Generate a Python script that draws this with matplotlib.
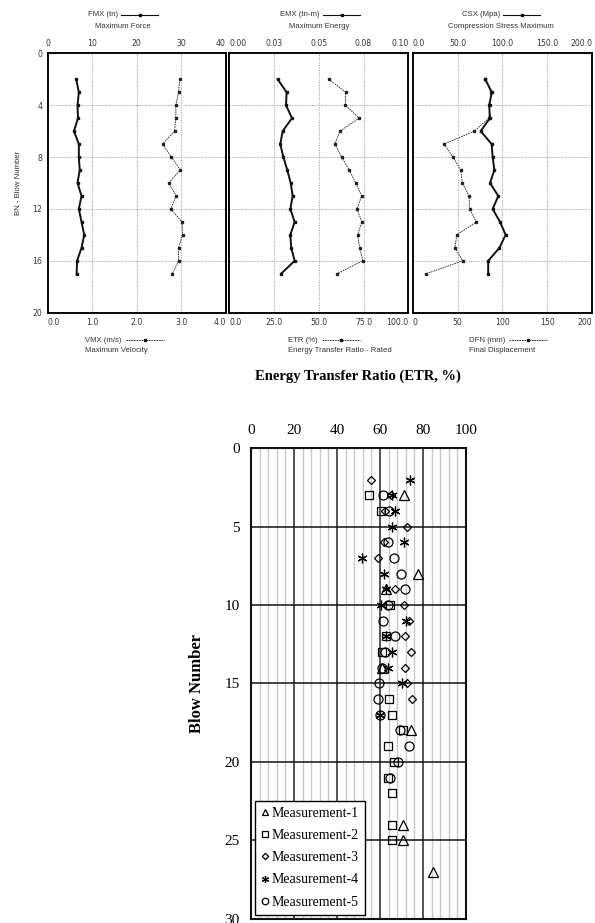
import numpy as np
import matplotlib
matplotlib.use("Agg")
import matplotlib.pyplot as plt
from matplotlib.lines import Line2D

# ---------------- data: PDA output panels (blows 2..17) ----------------
pda_blows = [2, 3, 4, 5, 6, 7, 8, 9, 10, 11, 12, 13, 14, 15, 16, 17]
fmx = [6.4, 7.0, 6.7, 6.8, 5.9, 7.0, 7.0, 7.2, 6.7, 7.6, 7.0, 7.6, 8.2, 7.6, 6.6, 6.5]
vmx = [2.97, 2.94, 2.88, 2.88, 2.85, 2.58, 2.78, 2.98, 2.72, 2.89, 2.76, 3.02, 3.03, 2.94, 2.94, 2.80]
emx = [0.0270, 0.0320, 0.0317, 0.0350, 0.0298, 0.0285, 0.0302, 0.0324, 0.0343, 0.0354, 0.0341,
       0.0365, 0.0341, 0.0346, 0.0365, 0.0289]
etr_pda = [55.5, 65.0, 64.8, 72.6, 61.8, 59.0, 62.8, 67.0, 70.6, 73.9, 71.3, 74.1, 71.7, 72.8, 74.6, 60.0]
csx = [80.8, 88.3, 85.3, 86.2, 75.8, 88.1, 89.2, 91.1, 86.2, 95.5, 89.2, 97.4, 103.7, 96.7, 84.2, 84.2]
dfn = [81.0, 87.5, 86.0, 85.0, 68.8, 35.0, 45.0, 53.5, 55.4, 62.8, 63.6, 71.0, 49.1, 47.2, 55.8, 14.8]

# ---------------- data: ETR measurements ----------------
m1_blow = [3, 8, 9, 14, 18, 24, 25, 27]
m1_etr = [71.0, 77.8, 62.7, 61.0, 74.4, 70.7, 70.7, 84.6]
m2_blow = [3, 4, 10, 12, 13, 16, 17, 18, 19, 20, 21, 22, 24, 25]
m2_etr = [55.1, 60.4, 64.5, 62.7, 60.9, 64.4, 65.5, 70.7, 63.5, 66.3, 63.5, 65.8, 65.7, 65.5]
m3_blow = [2, 3, 4, 5, 6, 7, 9, 10, 11, 12, 13, 14, 15, 16]
m3_etr = [55.7, 65.0, 62.5, 72.5, 62.0, 58.9, 67.1, 71.3, 73.3, 71.6, 74.4, 71.7, 72.5, 74.8]
m4_blow = [2, 3, 4, 5, 6, 7, 8, 9, 10, 11, 12, 13, 14, 15, 17]
m4_etr = [73.8, 65.7, 67.1, 65.7, 71.3, 51.4, 62.0, 62.7, 60.4, 71.9, 62.9, 65.5, 63.5, 70.2, 59.8]
m5_blow = [3, 4, 6, 7, 8, 9, 10, 11, 12, 13, 14, 15, 16, 17, 18, 19, 20, 21]
m5_etr = [61.2, 64.3, 63.5, 66.3, 69.7, 71.7, 63.5, 61.6, 66.8, 62.5, 60.9, 59.6, 59.0, 60.0,
          69.4, 73.6, 68.6, 64.8]
series_names = ["Measurement-1", "Measurement-2", "Measurement-3", "Measurement-4", "Measurement-5"]

W, H = 595, 923
fig = plt.figure(figsize=(W / 100, H / 100), dpi=100)
renderer = fig.canvas.get_renderer()

SANS = "Liberation Sans"
SERIF = "Liberation Serif"
TXT = "#333333"
FS = 5.6


def fx(px):
    return px / W


def fy(py):
    return 1 - py / H


# ---------------- PDA panels ----------------
panels = [
    dict(x0=47.7, x1=225.7,
         bot=(0, 4, [0, 1, 2, 3, 4], ["0.0", "1.0", "2.0", "3.0", "4.0"]),
         top=(0, 40, [0, 10, 20, 30, 40], ["0", "10", "20", "30", "40"]),
         solid=fmx, dotted=vmx,
         tl="FMX (tn)", ts="Maximum Force", bl="VMX (m/s)", bs="Maximum Velocity",
         tlx=118, tsx=123, blx=85),
    dict(x0=229.3, x1=408.3,
         bot=(0, 100, [0, 25, 50, 75, 100], ["0.0", "25.0", "50.0", "75.0", "100.0"]),
         top=(0, 0.10, [0, 0.025, 0.05, 0.075, 0.10], ["0.00", "0.03", "0.05", "0.08", "0.10"]),
         solid=emx, dotted=etr_pda,
         tl="EMX (tn-m)", ts="Maximum Energy", bl="ETR (%)", bs="Energy Transfer Ratio - Rated",
         tlx=320, tsx=319, blx=288),
    dict(x0=412.7, x1=592.0,
         bot=(0, 200, [0, 50, 100, 150, 200], ["0", "50", "100", "150", "200"]),
         top=(0, 200, [0, 50, 100, 150, 200], ["0.0", "50.0", "100.0", "150.0", "200.0"]),
         solid=csx, dotted=dfn,
         tl="CSX (Mpa)", ts="Compression Stress Maximum", bl="DFN (mm)", bs="Final Displacement",
         tlx=500, tsx=501, blx=469),
]
ytop, ybot = 53.3, 312.7


def align_ends(labels):
    if labels:
        labels[0].set_horizontalalignment("left")
        labels[-1].set_horizontalalignment("right")


for i, p in enumerate(panels):
    ax = fig.add_axes([fx(p["x0"]), fy(ybot), (p["x1"] - p["x0"]) / W, (ybot - ytop) / H])
    b0, b1, bt, bl = p["bot"]
    ax.set_xlim(b0, b1)
    ax.set_ylim(20, 0)
    ax.set_xticks(bt)
    ax.set_xticklabels(bl)
    ax.set_yticks([0, 4, 8, 12, 16, 20])
    if i == 0:
        ax.set_yticklabels(["0", "4", "8", "12", "16", "20"])
    else:
        ax.set_yticklabels([])
    ax.tick_params(length=0, labelsize=FS, colors=TXT, pad=4)
    align_ends(ax.get_xticklabels())
    for t in bt[1:-1]:
        ax.axvline(t, color="#9a9a9a", lw=0.6, ls=(0, (1.5, 1.5)), zorder=0)
    for t in [4, 8, 12, 16]:
        ax.axhline(t, color="#9a9a9a", lw=0.6, ls=(0, (1.5, 1.5)), zorder=0)
    for s in ax.spines.values():
        s.set_linewidth(1.1)
    ax.plot(p["dotted"], pda_blows, color="#222222", lw=0.6, ls=(0, (2, 1)),
            marker="s", ms=1.8, zorder=3)
    axt = ax.twiny()
    t0, t1, tt, tl = p["top"]
    axt.set_xlim(t0, t1)
    axt.set_xticks(tt)
    axt.set_xticklabels(tl)
    axt.tick_params(length=0, labelsize=FS, colors=TXT, pad=4)
    if i > 0:
        align_ends(axt.get_xticklabels())
    else:
        axt.get_xticklabels()[-1].set_horizontalalignment("right")
    axt.plot(p["solid"], pda_blows, color="#111111", lw=1.4, marker="s", ms=2.0, zorder=4)
    for s in axt.spines.values():
        s.set_linewidth(1.1)
    # captions above
    tx = p["tlx"]
    fig.text(fx(tx), fy(15), p["tl"], ha="right", va="center", fontsize=FS, color=TXT, family=SANS)
    fig.add_artist(Line2D([fx(tx + 3), fx(tx + 40)], [fy(15), fy(15)], color="#111111", lw=0.8))
    fig.add_artist(Line2D([fx(tx + 21.5)], [fy(15)], color="#111111", marker="s", ms=1.8, lw=0))
    fig.text(fx(p["tsx"]), fy(26.5), p["ts"], ha="center", va="center", fontsize=FS, color=TXT,
             family=SANS)
    # captions below
    tb = fig.text(fx(p["blx"]), fy(340), p["bl"], ha="left", va="center", fontsize=FS, color=TXT,
                  family=SANS)
    ext = tb.get_window_extent(renderer=renderer)
    l0 = ext.x1 + 4
    l1 = l0 + 38
    fig.add_artist(Line2D([l0 / W, l1 / W], [fy(340), fy(340)], color="#111111", lw=0.6,
                          ls=(0, (2, 1))))
    fig.add_artist(Line2D([(l0 + l1) / 2 / W], [fy(340)], color="#111111", marker="s", ms=1.8, lw=0))
    fig.text(fx(p["blx"]), fy(351), p["bs"], ha="left", va="center", fontsize=FS, color=TXT,
             family=SANS)

fig.text(fx(18), fy(183), "BN - Blow Number", rotation=90, ha="center", va="center",
         fontsize=FS, color=TXT, family=SANS)

# ---------------- ETR measurement chart ----------------
ax2 = fig.add_axes([fx(251), fy(918.6), 215 / W, 470.3 / H])
ax2.set_xlim(0, 100)
ax2.set_ylim(30, 0)
ax2.xaxis.tick_top()
ax2.set_xticks([0, 20, 40, 60, 80, 100])
ax2.set_xticks(np.arange(0, 101, 4), minor=True)
ax2.set_yticks([0, 5, 10, 15, 20, 25, 30])
ax2.tick_params(which="both", length=0)
ax2.tick_params(labelsize=11, pad=8)
for lab in ax2.get_xticklabels() + ax2.get_yticklabels():
    lab.set_family(SERIF)
ax2.grid(which="minor", axis="x", color="#c8c8c8", lw=1.0, zorder=0)
ax2.grid(which="major", axis="x", color="#444444", lw=1.3, zorder=0)
ax2.grid(which="major", axis="y", color="#111111", lw=1.1, zorder=0)
for s in ax2.spines.values():
    s.set_linewidth(1.5)
    s.set_color("#111111")

star6 = (6, 2, 0)
styles = [("^", 6.5), ("s", 6.0), ("D", 4.5), (star6, 7.0), ("o", 6.5)]
data = [(m1_etr, m1_blow), (m2_etr, m2_blow), (m3_etr, m3_blow), (m4_etr, m4_blow), (m5_etr, m5_blow)]
for (xv, yv), (mk, ms), name in zip(data, styles, series_names):
    ax2.plot(xv, yv, ls="none", marker=mk, ms=ms, mfc="none", mec="black", mew=0.9, label=name,
             zorder=3)
leg = ax2.legend(loc="lower left", bbox_to_anchor=(0.018, 0.008), borderaxespad=0,
                 prop={"family": SERIF, "size": 10}, frameon=True, fancybox=False,
                 handlelength=0.6, handletextpad=0.15, labelspacing=0.66, borderpad=0.45,
                 markerscale=0.72)
leg.get_frame().set_edgecolor("black")
leg.get_frame().set_linewidth(1.0)
leg.get_frame().set_alpha(1)

ax2.set_ylabel("Blow Number", family=SERIF, fontsize=12, fontweight="bold", labelpad=14)
fig.text(fx(358), fy(376), "Energy Transfer Ratio (ETR, %)", ha="center", va="center",
         family=SERIF, fontsize=10.5, fontweight="bold")

fig.savefig("out.png", dpi=100)
